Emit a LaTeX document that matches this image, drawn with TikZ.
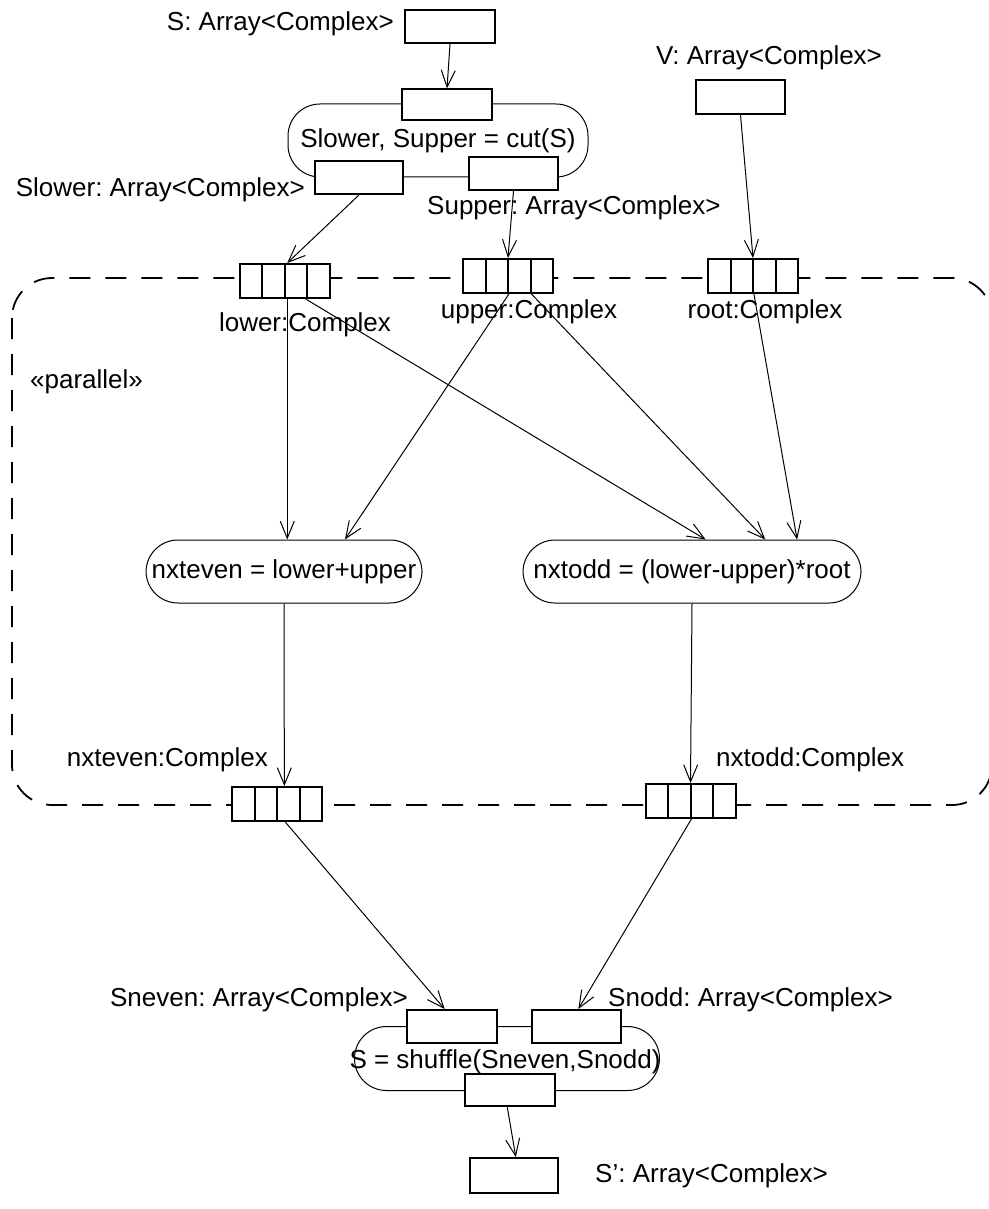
\documentclass[tikz,border=0pt]{standalone}
\usepackage{fontspec}
\setmainfont{Liberation Sans}
\usetikzlibrary{arrows.meta,calc}
\frenchspacing
\tikzset{
  lbl/.style={inner sep=0pt, font=\fontsize{26}{30}\selectfont},
  objbox/.style={rectangle, draw, line width=2pt, fill=white, inner sep=0pt},
  pinfour/.style={objbox, minimum width=90pt, minimum height=34pt,
    path picture={\foreach \f in {0.25,0.5,0.75}{\draw[line width=2pt] ($(path picture bounding box.south west)!\f!(path picture bounding box.south east)$) -- ($(path picture bounding box.north west)!\f!(path picture bounding box.north east)$);}}},
  actbox/.style={rectangle, draw, line width=1pt, rounded corners=32pt, inner sep=0pt, font=\fontsize{26}{30}\selectfont},
  flow/.style={line width=1pt, -{Straight Barb[length=17pt,width=14pt,line width=1pt]}},
  region/.style={line width=1.8pt, dash pattern=on 21pt off 15pt, rounded corners=40pt}
}
\begin{document}
\begin{tikzpicture}[x=1pt,y=-1pt]
\useasboundingbox (0,0) rectangle (988,1209);
% expansion region
\draw[region] (12,278) rectangle (992,805);
\node[lbl, anchor=west] (par) at (30,382) {«parallel»};

% top part
\node[lbl, anchor=east] (sl) at (394,24) {S: Array<Complex>};
\node[objbox, minimum width=90pt, minimum height=33pt] (sbox) at (450,26.5) {};
\node[actbox, minimum width=300pt, minimum height=73pt] (cut) at (438,140.5) {Slower, Supper = cut(S)};
\node[objbox, minimum width=90pt, minimum height=31pt] (pintop) at (447,105) {};
\node[objbox, minimum width=88pt, minimum height=33pt] (pinsl) at (359,177.5) {};
\node[objbox, minimum width=89pt, minimum height=33pt] (pinsu) at (513.5,173.5) {};
\node[lbl, anchor=east] (sll) at (305,190) {Slower: Array<Complex>};
\node[lbl, anchor=west] (sul) at (427,208) {Supper: Array<Complex>};

\node[lbl] (vl) at (769,58) {V: Array<Complex>};
\node[objbox, minimum width=89pt, minimum height=34pt] (vbox) at (740.5,97) {};

% input pins of region
\node[pinfour] (plo) at (284.5,281) {};
\node[pinfour] (pup) at (508,276) {};
\node[pinfour] (prt) at (753,276) {};
\node[lbl] (lol) at (305,325) {lower:Complex};
\node[lbl] (upl) at (529,312) {upper:Complex};
\node[lbl] (rtl) at (765,312) {root:Complex};

% actions
\node[actbox, minimum width=276pt, minimum height=63pt] (ev) at (284,571.5) {nxteven = lower+upper};
\node[actbox, minimum width=338pt, minimum height=63pt] (od) at (692,571.5) {nxtodd = (lower-upper)*root};

% output pins of region
\node[pinfour] (peo) at (277,804) {};
\node[pinfour] (poo) at (690.5,801) {};
\node[lbl, anchor=east] (eol) at (268,760) {nxteven:Complex};
\node[lbl, anchor=west] (ool) at (716,760) {nxtodd:Complex};

% bottom part
\node[actbox, minimum width=305pt, minimum height=64pt] (shf) at (507,1058.5) {};
\node[lbl] (shft) at (505,1062) {S = shuffle(Sneven,Snodd)};
\node[objbox, minimum width=90pt, minimum height=33pt] (pse) at (452,1026.5) {};
\node[objbox, minimum width=89pt, minimum height=33pt] (pso) at (576.5,1026.5) {};
\node[objbox, minimum width=90pt, minimum height=32pt] (pout) at (510,1090) {};
\node[objbox, minimum width=88pt, minimum height=35pt] (fin) at (514,1175.5) {};
\node[lbl, anchor=east] (sel) at (408,1000) {Sneven: Array<Complex>};
\node[lbl, anchor=west] (sol) at (608,1000) {Snodd: Array<Complex>};
\node[lbl, anchor=west] (finl) at (595,1176) {S’: Array<Complex>};

% connectors
\draw[flow] (sbox.south) -- (pintop.north);
\draw[flow] (pinsl.south) -- ($(plo.north west)!0.53!(plo.north east)$);
\draw[flow] (pinsu.south) -- (pup.north);
\draw[flow] (vbox.south) -- (prt.north);
\coordinate (lo1) at ($(plo.south west)!0.53!(plo.south east)$);
\draw[flow] (lo1) -- (lo1 |- ev.north);
\draw[flow] ($(plo.south west)!0.73!(plo.south east)$) -- ($(od.north west)!0.54!(od.north east)$);
\draw[flow] ($(pup.south west)!0.51!(pup.south east)$) -- ($(ev.north west)!0.72!(ev.north east)$);
\draw[flow] ($(pup.south west)!0.755!(pup.south east)$) -- ($(od.north west)!0.716!(od.north east)$);
\draw[flow] ($(prt.south west)!0.51!(prt.south east)$) -- ($(od.north west)!0.81!(od.north east)$);
\draw[flow] (ev.south) -- ($(peo.north west)!0.58!(peo.north east)$);
\draw[flow] (od.south) -- (poo.north);
\draw[flow] ($(peo.south west)!0.59!(peo.south east)$) -- ($(pse.north west)!0.42!(pse.north east)$);
\draw[flow] ($(poo.south west)!0.51!(poo.south east)$) -- ($(pso.north west)!0.52!(pso.north east)$);
\draw[flow] ($(pout.south west)!0.47!(pout.south east)$) -- ($(fin.north west)!0.52!(fin.north east)$);
\end{tikzpicture}
\end{document}
